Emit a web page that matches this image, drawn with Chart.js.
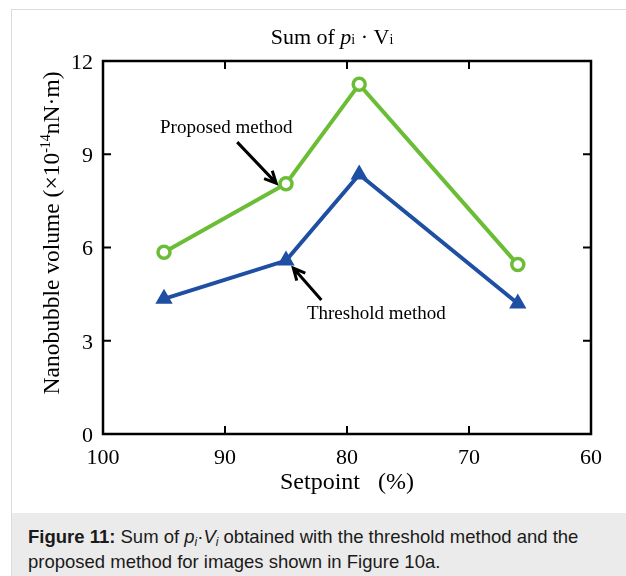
<!DOCTYPE html>
<html>
<head>
<meta charset="utf-8">
<title>Sum of p·V</title>
<script src="https://cdn.jsdelivr.net/npm/chart.js@4.4.1/dist/chart.umd.min.js"></script>
<style>
    html, body { margin: 0; padding: 0; background: #fff; }
    body { width: 626px; height: 576px; position: relative; overflow: hidden; }
    .chart-box { position: absolute; left: 0; top: 0; width: 626px; height: 513px; }
    .frame {
        position: absolute; left: 11px; top: 9px; width: 700px; height: 700px;
        border-left: 1px solid #dcdcdc; border-top: 1px solid #dcdcdc;
        pointer-events: none;
    }
    .caption {
        position: absolute; left: 12px; top: 513px; width: 700px; height: 80px;
        background: #ebebeb; box-sizing: border-box; padding: 11px 0 0 16px;
        font-family: 'Liberation Sans', Arial, sans-serif; font-size: 18.5px;
        line-height: 25px; color: #1a1a1a;
    }
    .caption sub { font-size: 12px; line-height: 0; vertical-align: -3px; }
</style>
</head>
<body>
<div class="chart-box"><canvas id="volumeChart"></canvas></div>
<div class="frame"></div>
<div class="caption"><b>Figure 11:</b> Sum of <i>p<sub>i</sub></i>·<i>V<sub>i</sub></i> obtained with the threshold method and the<br>proposed method for images shown in Figure 10a.</div>

<script>
// setpoint (%) of each measurement
const setpoints = [95, 85, 79, 66];
// nanobubble volume, x10^-14 nN·m
const proposedVolume = [5.85, 8.05, 11.25, 5.45];
const thresholdVolume = [4.35, 5.58, 8.35, 4.2];

const xTicks = [100, 90, 80, 70, 60];
const yTicks = [0, 3, 6, 9, 12];

const SERIF = "'Liberation Serif', 'Times New Roman', serif";
const GREEN = '#6cbd36';
const BLUE = '#1f4fa3';
const INK = '#000';

// labelled arrows, in data units (setpoint, volume)
const callouts = [
    { text: 'Proposed method', at: [89.9, 9.67], from: [89.0, 9.39], to: [85.8, 8.07] },
    { text: 'Threshold method', at: [77.6, 3.70], from: [82.1, 4.31], to: [84.4, 5.34] }
];

function drawRuns(ctx, runs, cx, baseline) {
    let total = 0;
    runs.forEach(r => {
        ctx.font = r.font;
        r.w = ctx.measureText(r.text).width;
        total += r.w;
    });
    let x = cx - total / 2;
    runs.forEach(r => {
        ctx.font = r.font;
        ctx.fillText(r.text, x, baseline + (r.dy || 0));
        x += r.w;
    });
}

function drawArrow(ctx, x1, y1, x2, y2) {
    const ang = Math.atan2(y2 - y1, x2 - x1);
    const head = 13;
    ctx.beginPath();
    ctx.moveTo(x1, y1);
    ctx.lineTo(x2, y2);
    ctx.moveTo(x2 - head * Math.cos(ang - 0.45), y2 - head * Math.sin(ang - 0.45));
    ctx.lineTo(x2, y2);
    ctx.lineTo(x2 - head * Math.cos(ang + 0.45), y2 - head * Math.sin(ang + 0.45));
    ctx.stroke();
}

const framePlugin = {
    id: 'frame',
    afterDraw(chart) {
        const ctx = chart.ctx;
        const area = chart.chartArea;
        const xs = chart.scales.x;
        const ys = chart.scales.y;
        const tick = 8;

        ctx.save();
        ctx.strokeStyle = INK;
        ctx.lineCap = 'butt';

        // ticks point inward on all four sides
        ctx.lineWidth = 2;
        ctx.beginPath();
        xTicks.slice(1, -1).forEach(v => {
            const px = xs.getPixelForValue(v);
            ctx.moveTo(px, area.bottom); ctx.lineTo(px, area.bottom - tick);
            ctx.moveTo(px, area.top); ctx.lineTo(px, area.top + tick);
        });
        yTicks.slice(1, -1).forEach(v => {
            const py = ys.getPixelForValue(v);
            ctx.moveTo(area.left, py); ctx.lineTo(area.left + tick, py);
            ctx.moveTo(area.right, py); ctx.lineTo(area.right - tick, py);
        });
        ctx.stroke();

        ctx.lineWidth = 2.5;
        ctx.strokeRect(area.left, area.top, area.right - area.left, area.bottom - area.top);

        // callouts
        ctx.fillStyle = INK;
        ctx.textAlign = 'left';
        ctx.textBaseline = 'alphabetic';
        ctx.lineWidth = 3;
        ctx.lineJoin = 'miter';
        callouts.forEach(c => {
            ctx.font = '19px ' + SERIF;
            const w = ctx.measureText(c.text).width;
            ctx.fillText(c.text, xs.getPixelForValue(c.at[0]) - w / 2, ys.getPixelForValue(c.at[1]));
            drawArrow(ctx,
                xs.getPixelForValue(c.from[0]), ys.getPixelForValue(c.from[1]),
                xs.getPixelForValue(c.to[0]), ys.getPixelForValue(c.to[1]));
        });

        // title
        drawRuns(ctx, [
            { text: 'Sum of ', font: '22px ' + SERIF },
            { text: 'p', font: 'italic 22px ' + SERIF },
            { text: 'i', font: '14px ' + SERIF },
            { text: ' · V', font: '22px ' + SERIF },
            { text: 'i', font: '14px ' + SERIF }
        ], 332, 44);

        // y-axis title with superscript exponent
        ctx.translate(59, 233);
        ctx.rotate(-Math.PI / 2);
        drawRuns(ctx, [
            { text: 'Nanobubble volume (×10', font: '23.5px ' + SERIF },
            { text: '-14', font: '14px ' + SERIF, dy: -9 },
            { text: 'nN·m)', font: '23.5px ' + SERIF }
        ], 0, 0);
        ctx.restore();
    }
};

new Chart(document.getElementById('volumeChart'), {
    type: 'line',
    data: {
        datasets: [
            {
                label: 'Proposed method',
                data: setpoints.map((x, i) => ({ x, y: proposedVolume[i] })),
                borderColor: GREEN,
                backgroundColor: '#ffffff',
                borderWidth: 4,
                pointStyle: 'circle',
                pointRadius: 6,
                pointBorderWidth: 3.5,
                pointBorderColor: GREEN,
                pointBackgroundColor: '#ffffff'
            },
            {
                label: 'Threshold method',
                data: setpoints.map((x, i) => ({ x, y: thresholdVolume[i] })),
                borderColor: BLUE,
                backgroundColor: BLUE,
                borderWidth: 4,
                pointStyle: 'triangle',
                pointRadius: 8,
                pointBorderWidth: 2,
                pointBorderColor: BLUE,
                pointBackgroundColor: BLUE
            }
        ]
    },
    options: {
        responsive: true,
        maintainAspectRatio: false,
        animation: false,
        layout: { padding: { top: 61, right: 35, left: 0, bottom: 0 } },
        plugins: {
            legend: { display: false },
            title: { display: false },
            tooltip: { enabled: false }
        },
        scales: {
            x: {
                type: 'linear',
                reverse: true,
                min: 60,
                max: 100,
                afterBuildTicks: scale => { scale.ticks = xTicks.map(v => ({ value: v })); },
                afterFit: scale => { scale.height = 79; },
                grid: { display: false, drawTicks: false },
                border: { display: false },
                ticks: { color: INK, padding: 11, font: { family: SERIF, size: 22 } },
                title: {
                    display: true,
                    text: 'Setpoint   (%)',
                    color: INK,
                    font: { family: SERIF, size: 24 },
                    padding: { top: 0, bottom: 16 }
                }
            },
            y: {
                min: 0,
                max: 12,
                afterBuildTicks: scale => { scale.ticks = yTicks.map(v => ({ value: v })); },
                afterFit: scale => { scale.width = 103; },
                grid: { display: false, drawTicks: false },
                border: { display: false },
                ticks: { color: INK, padding: 10, labelOffset: 2, font: { family: SERIF, size: 22 } }
            }
        }
    },
    plugins: [framePlugin]
});
</script>
</body>
</html>
